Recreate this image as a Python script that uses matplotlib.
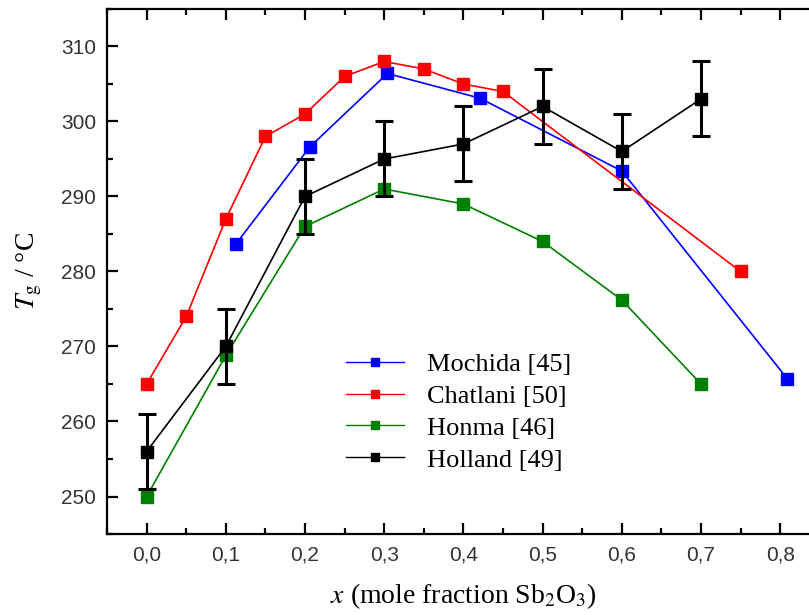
import matplotlib.pyplot as plt
from matplotlib.lines import Line2D
from matplotlib.ticker import MultipleLocator, FuncFormatter

# Mochida [45]
x_mochida = [0.113, 0.206, 0.304, 0.421, 0.600, 0.809]
tg_mochida = [283.7, 296.6, 306.4, 303.1, 293.4, 265.7]

# Chatlani [50]
x_chatlani = [0.0, 0.05, 0.10, 0.15, 0.20, 0.25, 0.30, 0.35, 0.40, 0.45, 0.75]
tg_chatlani = [265, 274, 287, 298, 301, 306, 308, 307, 305, 304, 280]

# Honma [46]
x_honma = [0.0, 0.1, 0.2, 0.3, 0.4, 0.5, 0.6, 0.7]
tg_honma = [250, 268.8, 286, 291, 289, 284, 276.2, 265]

# Holland [49]
x_holland = [0.0, 0.1, 0.2, 0.3, 0.4, 0.5, 0.6, 0.7]
tg_holland = [256, 270, 290, 295, 297, 302, 296, 303]
err_holland = [5, 5, 5, 5, 5, 5, 5, 5]

labels = ['Mochida [45]', 'Chatlani [50]', 'Honma [46]', 'Holland [49]']
colors = ['#0000ff', '#ff0000', '#008000', 'black']

plt.rcParams['mathtext.fontset'] = 'stix'

fig = plt.figure(figsize=(8.09, 6.15), dpi=100)
ax = fig.add_axes([0.1323, 0.1317, 0.881, 0.8537])

ms = 8.5
ax.plot(x_mochida, tg_mochida, color=colors[0], lw=1.2, marker='s', ms=ms, zorder=3)
ax.plot(x_chatlani, tg_chatlani, color=colors[1], lw=1.2, marker='s', ms=ms, zorder=3)
ax.plot(x_honma, tg_honma, color=colors[2], lw=1.2, marker='s', ms=ms, zorder=3)
ax.errorbar(x_holland, tg_holland, yerr=err_holland, color=colors[3], lw=1.2,
            marker='s', ms=ms, elinewidth=2.2, capsize=6.5, capthick=2.2, zorder=4)

ax.set_xlim(-0.05, 0.85)
ax.set_ylim(245, 315)
ax.xaxis.set_major_locator(MultipleLocator(0.1))
ax.xaxis.set_minor_locator(MultipleLocator(0.05))
ax.yaxis.set_major_locator(MultipleLocator(10))
ax.yaxis.set_minor_locator(MultipleLocator(5))
ax.xaxis.set_major_formatter(FuncFormatter(lambda v, p: f'{v:.1f}'.replace('.', ',')))
ax.yaxis.set_major_formatter(FuncFormatter(lambda v, p: f'{v:.0f}'))

ax.tick_params(which='both', direction='in', top=True, right=True, width=1.6)
ax.tick_params(which='major', length=8, labelsize=15, pad=8)
ax.tick_params(which='minor', length=4.5)
for lab in ax.get_xticklabels() + ax.get_yticklabels():
    lab.set_fontfamily('Liberation Sans')
    lab.set_color('#333333')
for sp in ax.spines.values():
    sp.set_linewidth(1.6)

ax.set_xlabel(r'$x$ (mole fraction Sb$_2$O$_3$)', family='Liberation Serif',
              fontsize=20, labelpad=12)
ax.set_ylabel(r'$T_\mathrm{g}$ / °C', family='Liberation Serif',
              fontsize=20, labelpad=12)

# legend: small square marker on a thin line
handles = [Line2D([], [], color=c, lw=1.0, marker='s', ms=6) for c in colors]
leg = ax.legend(handles, labels, loc='upper left', bbox_to_anchor=(0.32, 0.366),
                frameon=False, prop={'family': 'Liberation Serif', 'size': 19},
                handlelength=2.2, handletextpad=0.9, labelspacing=0.32,
                borderaxespad=0)

fig.savefig('out.png', dpi=100)
